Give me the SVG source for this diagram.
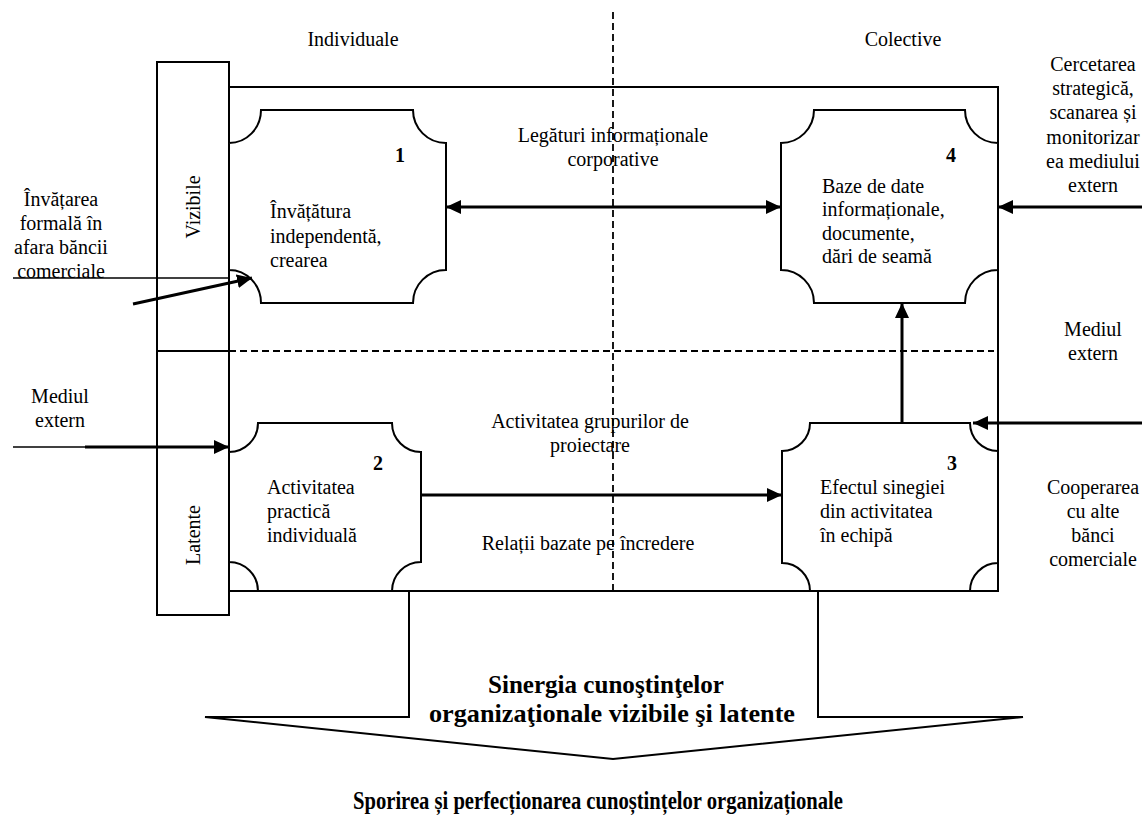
<svg xmlns="http://www.w3.org/2000/svg" width="1145" height="823" viewBox="0 0 1145 823">
<style>
.t{font-family:"Liberation Serif","Times New Roman",serif;font-size:20px;fill:#000}
.c{text-anchor:middle}
.b{font-weight:bold}
.ln{fill:none;stroke:#000;stroke-width:2}
.ar{fill:none;stroke:#000;stroke-width:3}
.th{fill:none;stroke:#000;stroke-width:1.5}
.ds{fill:none;stroke:#000;stroke-width:1.8;stroke-dasharray:7 4}
.nd{fill:#fff;stroke:#000;stroke-width:2}
.big{font-size:26px}
</style>
<defs>
<marker id="ah" markerUnits="userSpaceOnUse" markerWidth="16" markerHeight="14" refX="15" refY="7" orient="auto-start-reverse">
<path d="M0,0 L15,7 L0,14 Z" fill="#000"/>
</marker>
</defs>
<rect width="1145" height="823" fill="#fff"/>

<g id="frame">
<polyline class="ln" points="229,87 998,87 998,591 229,591"/>
<line class="ds" x1="613" y1="12" x2="613" y2="591"/>
<line class="ds" x1="229" y1="351" x2="994" y2="351"/>
</g>

<g id="column">
<rect class="ln" x="157" y="62" width="72" height="553"/>
<line class="ln" x1="157" y1="351" x2="229" y2="351"/>
<text class="t c" transform="translate(200,207) rotate(-90)">Vizibile</text>
<text class="t c" transform="translate(200,535) rotate(-90)">Latente</text>
</g>

<g id="headers">
<text class="t c" x="353" y="46">Individuale</text>
<text class="t c" x="903" y="46">Colective</text>
</g>

<g id="node1">
<path class="nd" d="M261,110 L413,110 A33,33 0 0 0 446,143 L446,270 A33,33 0 0 0 413,303 L261,303 A32,33 0 0 0 229,270 L229,143 A32,33 0 0 0 261,110 Z"/>
<text class="t b" x="395" y="162">1</text>
<text class="t" x="270" y="218">Învățătura</text>
<text class="t" x="270" y="243">independentă,</text>
<text class="t" x="270" y="267">crearea</text>
</g>

<g id="node4">
<path class="nd" d="M814,110 L965,110 A33,33 0 0 0 998,143 L998,270 A33,33 0 0 0 965,303 L814,303 A33,33 0 0 0 781,270 L781,143 A33,33 0 0 0 814,110 Z"/>
<text class="t b" x="946" y="162">4</text>
<text class="t" x="822" y="193">Baze de date</text>
<text class="t" x="822" y="216">informaționale,</text>
<text class="t" x="822" y="240">documente,</text>
<text class="t" x="822" y="263">dări de seamă</text>
</g>

<g id="node2">
<path class="nd" d="M258,423 L392,423 A29,29 0 0 0 421,452 L421,562 A29,29 0 0 0 392,591 L258,591 A29,29 0 0 0 229,562 L229,452 A29,29 0 0 0 258,423 Z"/>
<text class="t b" x="373" y="470">2</text>
<text class="t" x="267" y="494">Activitatea</text>
<text class="t" x="267" y="518">practică</text>
<text class="t" x="267" y="542">individuală</text>
</g>

<g id="node3">
<path class="nd" d="M810,423 L970,423 A28,28 0 0 0 998,451 L998,563 A28,28 0 0 0 970,591 L810,591 A28,28 0 0 0 782,563 L782,451 A28,28 0 0 0 810,423 Z"/>
<text class="t b" x="947" y="470">3</text>
<text class="t" x="820" y="494">Efectul sinegiei</text>
<text class="t" x="820" y="518">din activitatea</text>
<text class="t" x="820" y="542">în echipă</text>
</g>

<g id="labels">
<text class="t c" x="613" y="142">Legături informaționale</text>
<text class="t c" x="613" y="166">corporative</text>
<text class="t c" x="590" y="428">Activitatea grupurilor de</text>
<text class="t c" x="590" y="452">proiectare</text>
<text class="t c" x="588" y="550">Relații bazate pe încredere</text>
<text class="t c" x="61" y="206">Învățarea</text>
<text class="t c" x="61" y="230">formală în</text>
<text class="t c" x="61" y="254">afara băncii</text>
<text class="t c" x="61" y="278">comerciale</text>
<text class="t c" x="60" y="403">Mediul</text>
<text class="t c" x="60" y="427">extern</text>
<text class="t c" x="1093" y="71">Cercetarea</text>
<text class="t c" x="1093" y="95">strategică,</text>
<text class="t c" x="1093" y="119">scanarea și</text>
<text class="t c" x="1093" y="144">monitorizar</text>
<text class="t c" x="1093" y="168">ea mediului</text>
<text class="t c" x="1093" y="192">extern</text>
<text class="t c" x="1093" y="336">Mediul</text>
<text class="t c" x="1093" y="360">extern</text>
<text class="t c" x="1093" y="494">Cooperarea</text>
<text class="t c" x="1093" y="518">cu alte</text>
<text class="t c" x="1093" y="542">bănci</text>
<text class="t c" x="1093" y="566">comerciale</text>
</g>

<g id="connectors">
<line class="ar" x1="446" y1="207" x2="781" y2="207" marker-start="url(#ah)" marker-end="url(#ah)"/>
<line class="ar" x1="1142" y1="207" x2="998" y2="207" marker-end="url(#ah)"/>
<line class="ar" x1="1142" y1="423" x2="973" y2="423" marker-end="url(#ah)"/>
<line class="ar" x1="902" y1="423" x2="902" y2="303" marker-end="url(#ah)"/>
<line class="ar" x1="421" y1="495" x2="782" y2="495" marker-end="url(#ah)"/>
<line class="th" x1="13" y1="447" x2="86" y2="447"/>
<line class="ar" x1="85" y1="447" x2="229" y2="447" marker-end="url(#ah)"/>
<line class="th" x1="13" y1="278" x2="229" y2="278"/>
<line class="ar" x1="133" y1="304" x2="252" y2="278" marker-end="url(#ah)"/>
</g>

<g id="result">
<polyline class="ln" points="409,591 409,717 205,717 613,759 1023,717 818,717 818,591"/>
<text class="t c b big" x="606" y="693" textLength="236" lengthAdjust="spacingAndGlyphs">Sinergia cunoştinţelor</text>
<text class="t c b big" x="612" y="722" textLength="366" lengthAdjust="spacingAndGlyphs">organizaţionale vizibile şi latente</text>
<text class="t c b big" x="598" y="809" textLength="490" lengthAdjust="spacingAndGlyphs">Sporirea și perfecționarea cunoștințelor organizaționale</text>
</g>
</svg>
